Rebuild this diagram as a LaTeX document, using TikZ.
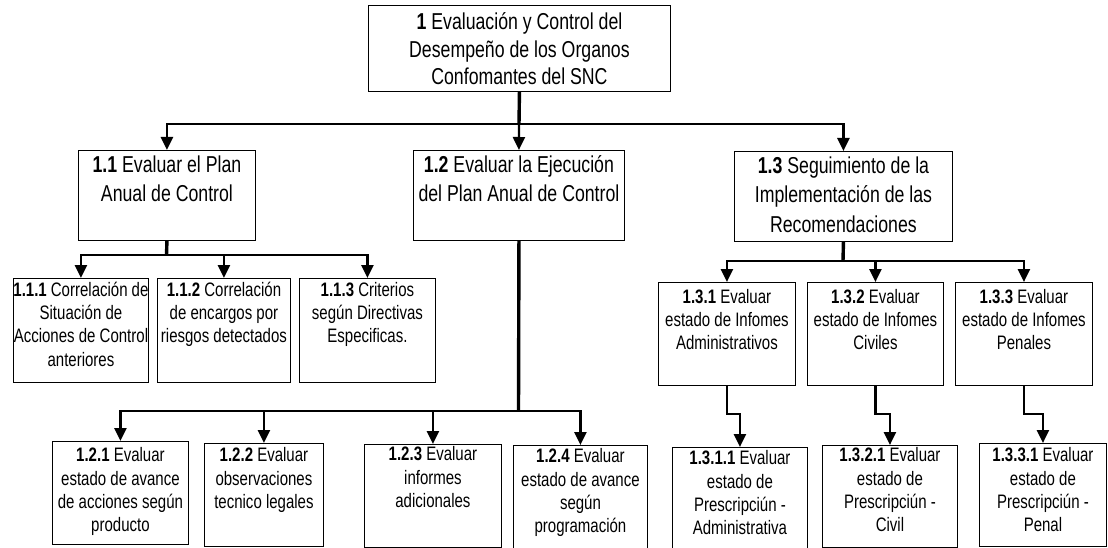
\documentclass[tikz,border=0pt]{standalone}
\usepackage{fontspec}
\setmainfont{Liberation Sans}[FakeStretch=0.77]
\usetikzlibrary{arrows.meta}
\tikzset{
  box/.style={draw=black, line width=0.9pt, inner sep=0pt, anchor=north west},
  big/.style={font=\fontsize{23}{29.5}\selectfont},
  bigtop/.style={font=\fontsize{23}{27.5}\selectfont},
  small/.style={font=\fontsize{19.5}{23.3}\selectfont},
  conn/.style={line width=2.4pt, -{Triangle[length=13pt,width=12pt]}},
  trunk/.style={line width=3.4pt},
}
\newcommand{\bt}[4]{\parbox[c][#2pt][t]{#1pt}{\centering\vspace*{#3pt}\strut #4}}
\begin{document}
\begin{tikzpicture}[x=1pt,y=-1pt]
\useasboundingbox (0,0) rectangle (1108,548);
\fill[white] (0,0) rectangle (1108,548);
% level 0
\node[box,bigtop] (n1) at (368,5) {\bt{302}{86}{5}{\textbf{1} Evaluación y Control del\\Desempeño de los Organos\\Confomantes del SNC}};
% level 1
\node[box,big] (n11) at (78,150) {\bt{177}{90}{1}{\textbf{1.1} Evaluar el Plan\\Anual de Control}};
\node[box,big] (n12) at (413,150) {\bt{211}{90}{1}{\textbf{1.2} Evaluar la Ejecución\\del Plan Anual de Control}};
\node[box,big] (n13) at (734,151) {\bt{218}{90}{1}{\textbf{1.3} Seguimiento de la\\Implementación de las\\Recomendaciones}};
% level 2 under 1.1
\node[box,small] (n111) at (13,278) {\bt{135}{104}{1.5}{\textbf{1.1.1} Correlación de\\Situación de\\Acciones de Control\\anteriores}};
\node[box,small] (n112) at (157,278) {\bt{133}{104}{1.5}{\textbf{1.1.2} Correlación\\de encargos por\\riesgos detectados}};
\node[box,small] (n113) at (299,278) {\bt{136}{104}{1.5}{\textbf{1.1.3} Criterios\\según Directivas\\Especificas.}};
% level 2 under 1.2
\node[box,small] (n121) at (52,441) {\bt{136}{103}{4}{\textbf{1.2.1} Evaluar\\estado de avance\\de acciones según\\producto}};
\node[box,small] (n122) at (204,443) {\bt{119}{103}{2}{\textbf{1.2.2} Evaluar\\observaciones\\tecnico legales}};
\node[box,small] (n123) at (364,444) {\bt{137}{103}{0}{\textbf{1.2.3} Evaluar\\informes\\adicionales}};
\node[box,small] (n124) at (513,445) {\bt{134}{110}{1}{\textbf{1.2.4} Evaluar\\estado de avance\\según\\programación}};
% level 2 under 1.3
\node[box,small] (n131) at (658,282) {\bt{137}{103}{4.5}{\textbf{1.3.1} Evaluar\\estado de Infomes\\Administrativos}};
\node[box,small] (n132) at (807,282) {\bt{136}{103}{4.5}{\textbf{1.3.2} Evaluar\\estado de Infomes\\Civiles}};
\node[box,small] (n133) at (955,282) {\bt{137}{103}{4.5}{\textbf{1.3.3} Evaluar\\estado de Infomes\\Penales}};
% level 3
\node[box,small] (n1311) at (672,447) {\bt{135}{110}{1}{\textbf{1.3.1.1} Evaluar\\estado de\\Prescripciún -\\Administrativa}};
\node[box,small] (n1321) at (822,445) {\bt{135}{102}{0}{\textbf{1.3.2.1} Evaluar\\estado de\\Prescripciún -\\Civil}};
\node[box,small] (n1331) at (979,443) {\bt{127}{103}{2}{\textbf{1.3.3.1} Evaluar\\estado de\\Prescripciún -\\Penal}};
% junctions
\coordinate (j0) at (519,124);
\coordinate (j11) at (166.5,255);
\coordinate (j12) at (518.5,411);
\coordinate (j13) at (843,261);
\coordinate (k) at (0,414);
% connectors level 0 -> 1
\draw[trunk] (n1.south) -- (j0);
\draw[conn] (j0) -| (n11.north);
\draw[conn] (j0) -- (n12.north);
\draw[conn] (j0) -| (n13.north);
% 1.1
\draw[trunk] (n11.south) -- (j11);
\draw[conn] (j11) -| (n111.north);
\draw[conn] (j11) -| (n112.north);
\draw[conn] (j11) -| (n113.north);
% 1.2
\draw[trunk] (n12.south) -- (j12);
\draw[conn] (j12) -| (n121.north);
\draw[conn] (j12) -| (n122.north);
\draw[conn] (j12) -| (n123.north);
\draw[conn] (j12) -| (n124.north);
% 1.3
\draw[trunk] (n13.south) -- (j13);
\draw[conn] (j13) -| (n131.north);
\draw[conn] (j13) -| (n132.north);
\draw[conn] (j13) -| (n133.north);
% 1.3.x -> 1.3.x.1
\draw[conn] (n131.south) -- (n131.south |- k) -| (n1311.north);
\draw[conn] (n132.south) -- (n132.south |- k) -| (n1321.north);
\draw[conn] (n133.south) -- (n133.south |- k) -| (n1331.north);
\end{tikzpicture}
\end{document}
